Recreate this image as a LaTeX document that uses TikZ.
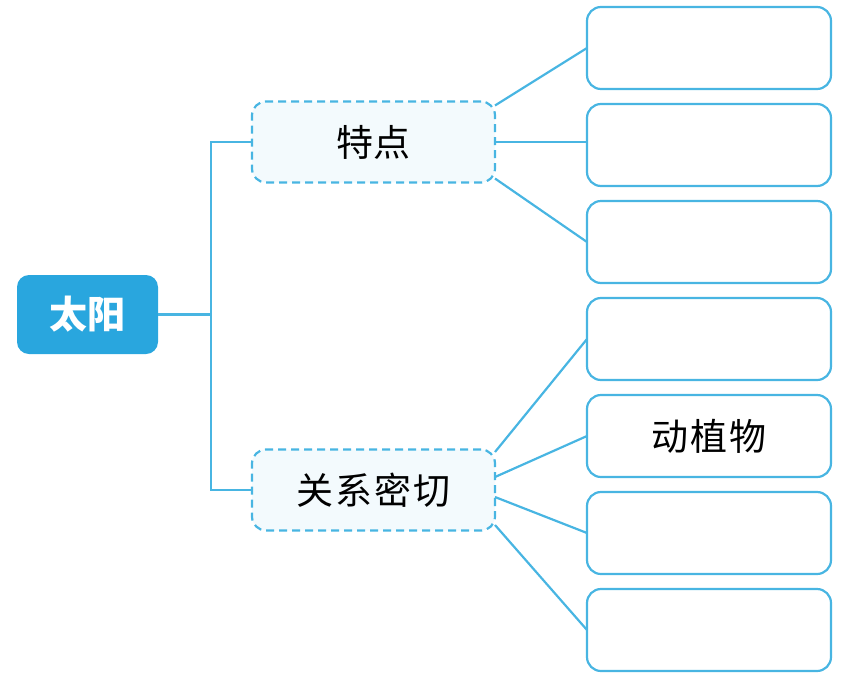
\documentclass[tikz,border=0pt]{standalone}
\usepackage{fontspec}
\newfontfamily\cjk{Noto Sans CJK SC}
\usepackage{tikz}
\usetikzlibrary{positioning}

\definecolor{sunblue}{HTML}{29A6DE}
\definecolor{edgeblue}{HTML}{48B5E2}
\definecolor{paleblue}{HTML}{F3FAFD}

\begin{document}
\begin{tikzpicture}[
  x=1pt, y=-1pt,
  every node/.style={align=center, font=\cjk\fontsize{37}{44}\selectfont, inner sep=0pt, outer sep=0pt},
  root/.style={rectangle, rounded corners=12pt, fill=sunblue, text=white, minimum width=141pt, minimum height=79pt, font=\cjk\bfseries\fontsize{38}{44}\selectfont},
  topic/.style={draw=edgeblue, line width=2.2pt, dash pattern=on 8pt off 5pt, fill=paleblue, rectangle, rounded corners=14pt, minimum width=243pt, minimum height=81pt},
  leaf/.style={draw=edgeblue, line width=2.2pt, rectangle, rounded corners=14pt, minimum width=244pt, minimum height=82pt},
  link/.style={draw=edgeblue, line width=2.2pt}
]
\useasboundingbox (0,0) rectangle (851,691);

% Nodes
\node[root] (sun) at (87.5,314.5) {太阳};
\node[topic] (feat) at (373.5,142) {特点};
\node[topic] (rel) at (373.5,490) {关\kern2pt 系\kern2pt 密\kern2pt 切};
\node[leaf] (f1) at (709,48) {};
\node[leaf, below=15pt of f1] (f2) {};
\node[leaf, below=15pt of f2] (f3) {};
\node[leaf, below=15pt of f3] (r1) {};
\node[leaf, below=15pt of r1] (r2) {动\kern2pt 植\kern2pt 物};
\node[leaf, below=15pt of r2] (r3) {};
\node[leaf, below=15pt of r3] (r4) {};
\coordinate (trunk) at (211,314.5);

% Links
\draw[link] (sun.east) -- (trunk);
\draw[link] (feat.west) -| (trunk);
\draw[link] (rel.west) -| (trunk);
\draw[link] ([yshift=-4pt]feat.north east) -- (f1.west);
\draw[link] (feat.east) -- (feat.east -| f2.west);
\draw[link] ([yshift=4pt]feat.south east) -- (f3.west);
\draw[link] ([yshift=38pt]rel.east) -- (r1.west);
\draw[link] ([yshift=13pt]rel.east) -- (r2.west);
\draw[link] ([yshift=-7pt]rel.east) -- (r3.west);
\draw[link] ([yshift=-35pt]rel.east) -- (r4.west);

\end{tikzpicture}
\end{document}
